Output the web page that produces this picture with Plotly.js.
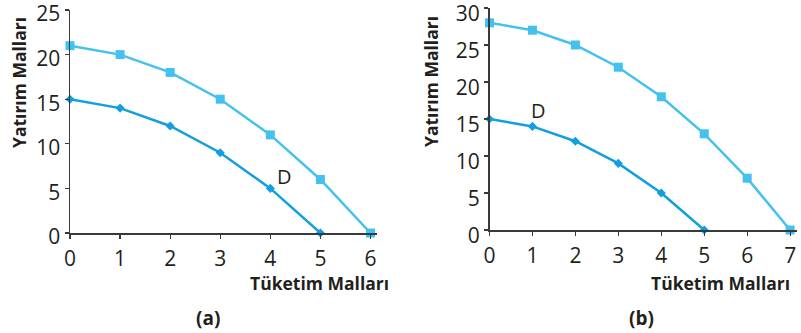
<!DOCTYPE html>
<html>
<head>
<meta charset="utf-8">
<script src="https://cdn.plot.ly/plotly-3.0.1.min.js"></script>
<style>html,body{margin:0;padding:0;background:#fff;}#chart{width:801px;height:333px;}</style>
</head>
<body>
<div id="chart"></div>
<script>
// Panel (a)
const xA = [0, 1, 2, 3, 4, 5, 6];
const outerA = [21, 20, 18, 15, 11, 6, 0];
const xAInner = [0, 1, 2, 3, 4, 5];
const innerA = [15, 14, 12, 9, 5, 0];
// Panel (b)
const xB = [0, 1, 2, 3, 4, 5, 6, 7];
const outerB = [28, 27, 25, 22, 18, 13, 7, 0];
const xBInner = [0, 1, 2, 3, 4, 5];
const innerB = [15, 14, 12, 9, 5, 0];
const xTitle = "Tüketim Malları";
const yTitle = "Yatırım Malları";
const panelLabels = ["(a)", "(b)"];

const light = "#45c1ef";
const dark = "#129fdf";
const txt = "#231f20";
const F = "Open Sans, sans-serif";

const traces = [
  {x: xA, y: outerA, xaxis: "x", yaxis: "y", mode: "lines+markers", line: {color: light, width: 2.5}, marker: {symbol: "square", size: 9, color: light}, cliponaxis: false},
  {x: xAInner, y: innerA, xaxis: "x", yaxis: "y", mode: "lines+markers", line: {color: dark, width: 2.5}, marker: {symbol: "diamond", size: 7, color: dark}, cliponaxis: false},
  {x: xB, y: outerB, xaxis: "x2", yaxis: "y2", mode: "lines+markers", line: {color: light, width: 2.5}, marker: {symbol: "square", size: 9, color: light}, cliponaxis: false},
  {x: xBInner, y: innerB, xaxis: "x2", yaxis: "y2", mode: "lines+markers", line: {color: dark, width: 2.5}, marker: {symbol: "diamond", size: 7, color: dark}, cliponaxis: false}
];

const axisCommon = {
  showgrid: false, zeroline: false, showline: true, linecolor: "#3a3a3a", linewidth: 1.5,
  ticks: "outside", ticklen: 4, tickcolor: "#3a3a3a", tickwidth: 1.2,
  tickfont: {family: F, size: 21, color: txt}, fixedrange: true,
  ticklabeloverflow: "allow"
};

const layout = {
  width: 801, height: 333,
  margin: {l: 0, r: 0, t: 0, b: 0},
  paper_bgcolor: "#fff", plot_bgcolor: "#fff",
  showlegend: false,
  xaxis: Object.assign({}, axisCommon, {domain: [70/801, 377/801], range: [0, 6.13], dtick: 1, anchor: "y", ticklabelstandoff: 2}),
  yaxis: Object.assign({}, axisCommon, {domain: [100/333, 323/333], range: [0, 25], dtick: 5, anchor: "x", ticklabelshift: 4}),
  xaxis2: Object.assign({}, axisCommon, {domain: [489.5/801, 797/801], range: [0, 7.16], dtick: 1, anchor: "y2", ticklabelstandoff: 2}),
  yaxis2: Object.assign({}, axisCommon, {domain: [103/333, 325/333], range: [0, 30], dtick: 5, anchor: "x2", ticklabelshift: 6}),
  annotations: [
    {text: "D", xref: "x", yref: "y", x: 4.28, y: 6.3, showarrow: false, font: {family: F, size: 20, color: txt}},
    {text: "D", xref: "x2", yref: "y2", x: 1.14, y: 16.1, showarrow: false, font: {family: F, size: 20, color: txt}},
    {text: "<b>" + xTitle + "</b>", xref: "paper", yref: "paper", x: 391/801, y: 1 - 283/333, xanchor: "right", yanchor: "middle", showarrow: false, font: {family: F, size: 17.5, color: txt}},
    {text: "<b>" + xTitle + "</b>", xref: "paper", yref: "paper", x: 792/801, y: 1 - 283/333, xanchor: "right", yanchor: "middle", showarrow: false, font: {family: F, size: 17.5, color: txt}},
    {text: "<b>" + yTitle + "</b>", xref: "paper", yref: "paper", x: 19/801, y: 1 - 83/333, xanchor: "center", yanchor: "middle", textangle: -90, showarrow: false, font: {family: F, size: 17.5, color: txt}},
    {text: "<b>" + yTitle + "</b>", xref: "paper", yref: "paper", x: 431/801, y: 1 - 82/333, xanchor: "center", yanchor: "middle", textangle: -90, showarrow: false, font: {family: F, size: 17.5, color: txt}},
    {text: "<b>" + panelLabels[0] + "</b>", xref: "paper", yref: "paper", x: 207.5/801, y: 1 - 318/333, xanchor: "center", yanchor: "middle", showarrow: false, font: {family: F, size: 19, color: txt}},
    {text: "<b>" + panelLabels[1] + "</b>", xref: "paper", yref: "paper", x: 641.5/801, y: 1 - 318/333, xanchor: "center", yanchor: "middle", showarrow: false, font: {family: F, size: 19, color: txt}}
  ]
};

Plotly.newPlot("chart", traces, layout, {displayModeBar: false, staticPlot: true});
</script>
</body>
</html>
